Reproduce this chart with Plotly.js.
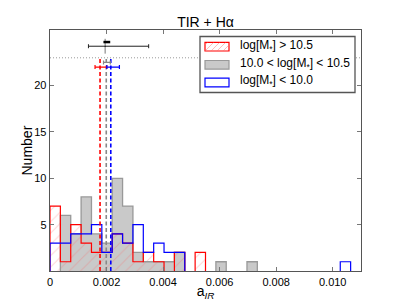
<!DOCTYPE html>
<html><head><meta charset="utf-8">
<script src="https://cdn.plot.ly/plotly-3.0.1.min.js"></script>
<style>html,body{margin:0;padding:0;background:#fff}#chart{width:401px;height:301px}</style>
</head><body><div id="chart"></div>
<script>
// ---- data ----
const binCount = 30;
const binMax = 0.011;
const redCounts  = [7,1,5,3,2,2,4,3,1,2,1,0,2,0,2,0,0,0,0,0,0,0,0,0,0,0,0,0,0,0];
const grayCounts = [0,6,4,8,4,3,10,7,2,1,1,1,2,0,0,0,1,0,0,1,0,0,0,0,0,0,0,0,0,0];
const blueCounts = [3,3,4,4,5,2,4,3,5,2,3,2,2,0,0,0,0,0,0,0,0,0,0,0,0,0,0,0,1,0];
const groupNames = ['log[M<sub>*</sub>] &gt; 10.5', '10.0 &lt; log[M<sub>*</sub>] &lt; 10.5', 'log[M<sub>*</sub>] &lt; 10.0'];
const medianX = [0.00177, 0.00199, 0.00215];
const medianTop = 23;
const medErrY = [22.0, 22.5, 22.0];
const medErrMinus = [0.000177, 0.000097, 0.000142];
const medErrPlus = [0.000238, 0.000142, 0.000305];
const refX = [0.00195];
const refY = [24.25];
const refErrMinus = [0.00059];
const refErrPlus = [0.00154];
const refErrY = [0.8];
const refInnerX = [0.00201];
const refInnerY = [24.7];
const refInnerMinus = [0.00012];
const refInnerPlus = [0.00012];
const xTickVals = [0, 0.002, 0.004, 0.006, 0.008, 0.010];
const xTickText = ['0', '0.002', '0.004', '0.006', '0.008', '0.010'];
const yTickVals = [5, 10, 15, 20];
const yTickText = ['5', '10', '15', '20'];

// ---- styling ----
const colors = ['#ff0000', '#999999', '#0000ff'];
const binWidth = binMax / binCount;
const edges = [], centers = [];
for (let k = 0; k <= binCount; k++) edges.push(k * binWidth);
for (let k = 0; k < binCount; k++) centers.push((k + 0.5) * binWidth);

// step outline, broken where the histogram is empty (baseline hidden under axis)
function stepTrace(counts, color, width) {
  const xs = [], ys = [];
  let k = 0;
  while (k < counts.length) {
    if (counts[k] === 0) { k++; continue; }
    xs.push(edges[k]); ys.push(0);
    while (k < counts.length && counts[k] !== 0) { xs.push(edges[k]); ys.push(counts[k]); k++; }
    xs.push(edges[k]); ys.push(0);
    xs.push(null); ys.push(null);
  }
  return {type:'scatter', mode:'lines', x:xs, y:ys, line:{shape:'hv', color:color, width:width},
          connectgaps:false, hoverinfo:'skip', showlegend:false};
}

const traces = [];
traces.push({type:'bar', x:centers, y:grayCounts, width:binWidth, marker:{color:'#c9c9c9', line:{width:0}}, showlegend:false});
traces.push({type:'bar', x:centers, y:redCounts, width:binWidth,
  marker:{color:'rgba(0,0,0,0)', line:{width:0},
    pattern:{shape:'/', fillmode:'overlay', fgcolor:'rgba(255,90,90,0.55)', bgcolor:'rgba(0,0,0,0)', size:8, solidity:0.12}},
  showlegend:false});
traces.push(stepTrace(grayCounts, '#999999', 1.3));
traces.push(stepTrace(redCounts, '#ff0000', 1.2));
traces.push(stepTrace(blueCounts, '#0000ff', 1.2));
// dotted reference line
traces.push({type:'scatter', mode:'lines', x:[0, binMax], y:[medianTop, medianTop],
  line:{color:'#999', width:1, dash:'1px,2px'}, showlegend:false});
// median dashed lines
for (let i = 0; i < 3; i++) {
  traces.push({type:'scatter', mode:'lines', x:[medianX[i], medianX[i]], y:[0, medianTop],
    line:{color:i===1?'#888':colors[i], width:1.6, dash:'4px,2.5px'}, showlegend:false});
}
// median error bars
for (let i = 0; i < 3; i++) {
  traces.push({type:'scatter', mode:'markers', x:[medianX[i]], y:[medErrY[i]], marker:{size:1, color:i===1?'#888':colors[i]},
    error_x:{type:'data', symmetric:false, array:[medErrPlus[i]], arrayminus:[medErrMinus[i]], color:i===1?'#888':colors[i], thickness:1.2, width:2},
    showlegend:false});
}
// black reference error bars
traces.push({type:'scatter', mode:'markers', x:refX, y:refY, marker:{size:1, color:'#000'},
  error_x:{type:'data', symmetric:false, array:refErrPlus, arrayminus:refErrMinus, color:'#222', thickness:1, width:2},
  error_y:{type:'data', array:refErrY, color:'#777', thickness:1, width:0},
  showlegend:false});
traces.push({type:'scatter', mode:'markers', x:refInnerX, y:refInnerY, marker:{size:1, color:'#000'},
  error_x:{type:'data', symmetric:false, array:refInnerPlus, arrayminus:refInnerMinus, color:'#000', thickness:2.5, width:0},
  showlegend:false});

// ---- custom legend (paper coordinates) ----
const L = 50, R = 361, T = 30, B = 271;
const px2x = p => (p - L) / (R - L);
const py2y = p => (B - p) / (B - T);
const shapes = [];
shapes.push({type:'rect', xref:'paper', yref:'paper', x0:px2x(200), x1:px2x(355), y0:py2y(92.5), y1:py2y(36.5),
  fillcolor:'#fff', line:{color:'#555', width:1.3}, layer:'above'});
const rowY = [46.7, 64.8, 82.5];
const patchFill = ['rgba(255,255,255,1)', '#c9c9c9', '#fff'];
const patchLine = ['#ff0000', '#999999', '#0000ff'];
for (let i = 0; i < 3; i++) {
  shapes.push({type:'rect', xref:'paper', yref:'paper', x0:px2x(205), x1:px2x(229), y0:py2y(rowY[i]+4.3), y1:py2y(rowY[i]-4.3),
    fillcolor:patchFill[i], line:{color:patchLine[i], width:1.2}, layer:'above'});
}
// hatch in red patch
const hy0 = rowY[0] + 4.3, hy1 = rowY[0] - 4.3;
const hatchSegs = [[205,hy0-6,207.6,hy1],[205,hy0,213.6,hy1],[211,hy0,219.6,hy1],[217,hy0,225.6,hy1],[223,hy0,229,hy0-6]];
hatchSegs.forEach(s => shapes.push({type:'line', xref:'paper', yref:'paper', x0:px2x(s[0]), y0:py2y(s[1]), x1:px2x(s[2]), y1:py2y(s[3]),
  line:{color:'rgba(255,110,110,0.6)', width:0.8}, layer:'above'}));
const annotations = groupNames.map((t, i) => ({xref:'paper', yref:'paper', x:px2x(238), y:py2y(rowY[i]-1.2),
  xanchor:'left', yanchor:'middle', text:t, showarrow:false, font:{size:12, color:'#000'}}));
// y axis title
annotations.push({xref:'paper', yref:'paper', x:px2x(26), y:0.5, xanchor:'center', yanchor:'middle',
  text:'Number', textangle:-90, showarrow:false, font:{size:14, color:'#000'}});

const layout = {
  width:401, height:301,
  margin:{l:L, r:401-R, t:T, b:301-B},
  paper_bgcolor:'#fff', plot_bgcolor:'#fff',
  font:{family:'Liberation Sans, Arial, sans-serif', size:11, color:'#000'},
  barmode:'overlay', bargap:0,
  showlegend:false,
  title:{text:'TIR + Hα', x:0.5, xref:'paper', xanchor:'center', y:1-22.5/301, yref:'container', yanchor:'middle', font:{size:14}},
  xaxis:{range:[0, binMax], tickvals:xTickVals, ticktext:xTickText, ticks:'inside', ticklen:4, tickcolor:'#777',
    showline:true, linecolor:'#555', linewidth:1.3, mirror:'ticks', showgrid:false, zeroline:false,
    title:{text:'a<sub><i>IR</i></sub>', font:{size:14}, standoff:1}},
  yaxis:{range:[0, 26], tickvals:yTickVals, ticktext:yTickText, ticks:'inside', ticklen:4, tickcolor:'#777',
    showline:true, linecolor:'#555', linewidth:1.3, mirror:'ticks', showgrid:false, zeroline:false},
  shapes:shapes, annotations:annotations
};
Plotly.newPlot('chart', traces, layout, {staticPlot:true, displayModeBar:false});
</script></body></html>
